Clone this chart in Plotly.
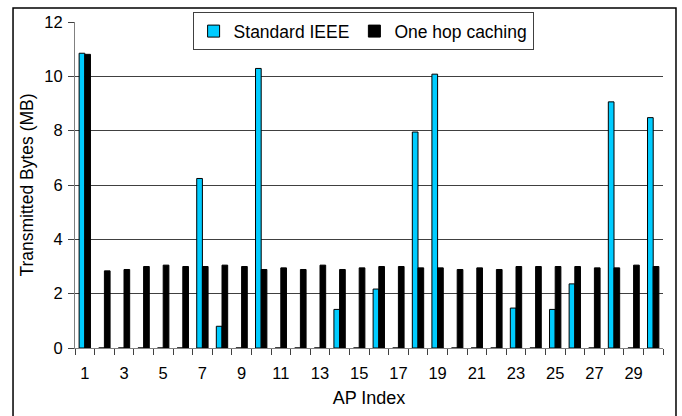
import plotly.graph_objects as go

ap_index = list(range(1, 31))
standard_ieee = [10.85, 0, 0, 0, 0, 0, 6.24, 0.80, 0, 10.29,
                 0, 0, 0, 1.42, 0, 2.17, 0, 7.95, 10.08, 0,
                 0, 0, 1.47, 0, 1.42, 2.36, 0, 9.06, 0, 8.48]
one_hop_caching = [10.81, 2.84, 2.89, 3.00, 3.05, 3.00, 3.00, 3.05, 3.00, 2.89,
                   2.95, 2.89, 3.05, 2.89, 2.95, 3.00, 3.00, 2.95, 2.95, 2.89,
                   2.95, 2.89, 3.00, 3.00, 3.00, 3.00, 2.95, 2.95, 3.05, 3.00]
x_labels = [str(i) for i in range(1, 31, 2)]
boundaries = [i + 0.5 for i in range(0, 31)]

FONT = "Liberation Sans, Arial, sans-serif"

fig = go.Figure()
fig.add_trace(go.Bar(x=ap_index, y=standard_ieee, name="Standard IEEE",
                     marker=dict(color="#00CCFF", line=dict(color="#000000", width=1))))
fig.add_trace(go.Bar(x=ap_index, y=one_hop_caching, name="One hop caching",
                     marker=dict(color="#000000", line=dict(color="#000000", width=1))))

# invisible trace on secondary x-axis for boundary ticks
fig.add_trace(go.Scatter(x=[boundaries[0], boundaries[-1]], y=[0, 0], xaxis="x2",
                         mode="markers", marker=dict(opacity=0), showlegend=False,
                         hoverinfo="skip"))

fig.update_layout(
    width=682, height=416,
    margin=dict(l=75, r=19, t=19, b=68),
    paper_bgcolor="white", plot_bgcolor="white",
    barmode="group", bargap=0.42, bargroupgap=0,
    font=dict(family=FONT, size=16, color="black"),
    xaxis=dict(range=[0.5, 30.5], tickmode="array",
               tickvals=[int(v) for v in x_labels], ticktext=x_labels,
               ticks="", showgrid=False, zeroline=False, ticklabelstandoff=10,
               showline=True, linecolor="#808080", linewidth=1,
               tickfont=dict(size=16.5),
               title=dict(text="AP Index", font=dict(size=18), standoff=10)),
    xaxis2=dict(range=[0.5, 30.5], overlaying="x", side="bottom",
                tickmode="array", tickvals=boundaries, showticklabels=False,
                ticks="outside", ticklen=6, tickcolor="#404040", tickwidth=1,
                showgrid=False, zeroline=False, showline=False, anchor="y"),
    yaxis=dict(range=[0, 12], tickmode="array", tickvals=[0, 2, 4, 6, 8, 10, 12],
               ticks="outside", ticklen=6, tickcolor="#404040",
               showgrid=True, gridcolor="#404040", gridwidth=1,
               zeroline=False, showline=True, linecolor="#808080", linewidth=1,
               tickfont=dict(size=16.5), ticklabelstandoff=2,
               title=dict(text="Transmitted Bytes (MB)", font=dict(size=17.5), standoff=6)),
    legend=dict(orientation="h", x=0.2, y=1.03, xanchor="left", yanchor="top",
                bgcolor="white", bordercolor="#404040", borderwidth=1,
                font=dict(size=17.5), itemwidth=30, tracegroupgap=0),
    shapes=[dict(type="rect", xref="paper", yref="paper",
                 x0=-0.1054, x1=1.0221, y0=-0.25, y1=1.0426,
                 line=dict(color="#000000", width=1.5), layer="below")],
    showlegend=True,
)

fig.write_html("out.html")
